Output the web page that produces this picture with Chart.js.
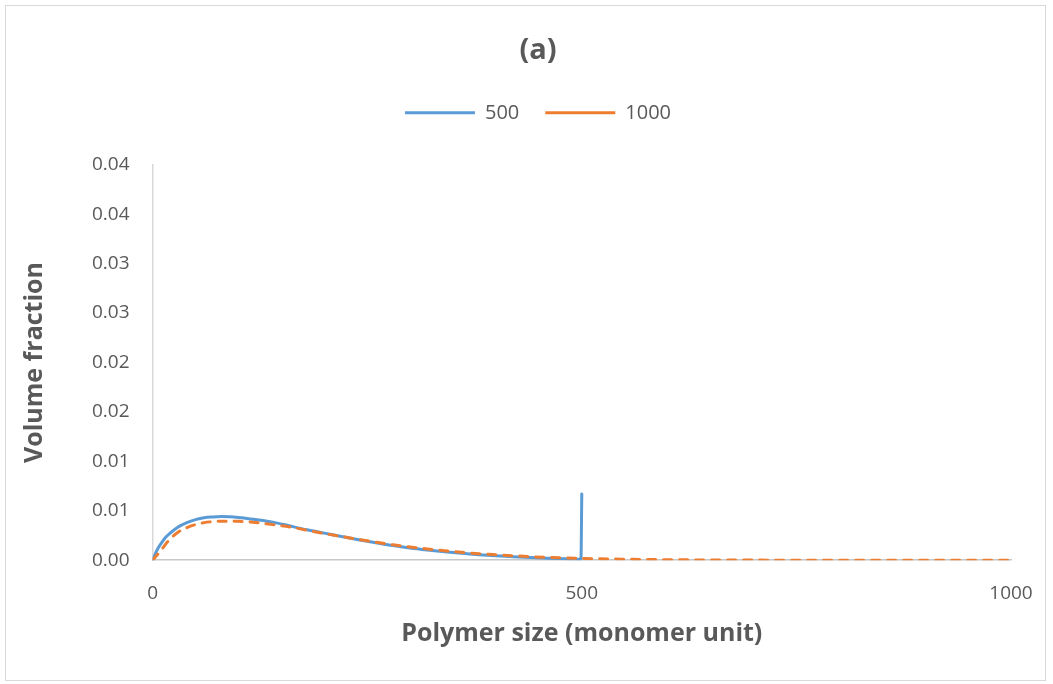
<!DOCTYPE html>
<html>
<head>
<meta charset="utf-8">
<script src="https://cdn.jsdelivr.net/npm/chart.js@4/dist/chart.umd.min.js"></script>
<style>
  html, body { margin: 0; padding: 0; background: #fff; }
  #wrap { position: relative; width: 1053px; height: 684px; }
  #frame { position: absolute; left: 5px; top: 5px; width: 1039px; height: 674px; border: 1px solid #d9d9d9; pointer-events: none; }
</style>
</head>
<body>
<div id="wrap">
  <canvas id="chart" width="1053" height="684"></canvas>
  <div id="frame"></div>
</div>
<script>
// ─── DATA ────────────────────────────────────────────────────────────────────

const sizes500  = [0, 5, 10, 15, 20, 30, 40, 50, 60, 70, 80, 90, 100, 120, 140, 160, 180, 200, 220, 240, 260, 280,
                   300, 320, 340, 360, 380, 400, 420, 440, 460, 480, 499, 500];
const frac500   = [0, 0.001, 0.0017, 0.0023, 0.0027, 0.00337, 0.0038, 0.0041, 0.0043, 0.00438, 0.00442, 0.0044, 0.00433,
                   0.00411, 0.00385, 0.00346, 0.00308, 0.00274, 0.0024, 0.00207, 0.00177, 0.00148,
                   0.00124, 0.00104, 0.00086, 0.0007, 0.00056, 0.00044, 0.00035, 0.00027, 0.0002, 0.00014,
                   0.0001, 0.0067];

const sizes1000 = [0, 5, 10, 15, 20, 30, 40, 50, 60, 70, 80, 90, 100, 120, 140, 160, 180, 200, 220, 240, 260, 280,
                   300, 320, 340, 360, 380, 400, 420, 440, 460, 480, 500, 550, 600, 650, 700, 800, 900, 1000];
const frac1000  = [0, 0.0005, 0.001, 0.0016, 0.0021, 0.00286, 0.0033, 0.0036, 0.0038, 0.0039, 0.00395, 0.00395, 0.00393,
                   0.00382, 0.0036, 0.00336, 0.00303, 0.0027, 0.0024, 0.0021, 0.00182, 0.00156,
                   0.00134, 0.00114, 0.00096, 0.0008, 0.00066, 0.00055, 0.00045, 0.00036, 0.00029, 0.00023,
                   0.00018, 0.0001, 0.00005, 0.00002, 0.00001, 0, 0, 0];

const yTickLabels = ['0.00', '0.01', '0.01', '0.02', '0.02', '0.03', '0.03', '0.04', '0.04'];
const xTickLabels = ['0', '500', '1000'];

// ─── CHART ───────────────────────────────────────────────────────────────────

const FONT = "'Open Sans', 'Segoe UI', 'Liberation Sans', sans-serif";
const textCol = '#595959';
const blue = '#5b9bd5';
const orange = '#ed7d31';
const LEGEND_GAP = 32;   // extra room between legend and plot

const toPoints = (xs, ys) => xs.map((x, i) => ({ x, y: ys[i] }));

// leave a bit more space under the legend, like the original
const legendSpacer = {
  id: 'legendSpacer',
  beforeInit(chart) {
    const fit = chart.legend.fit;
    chart.legend.fit = function () {
      fit.call(this);
      this.height += LEGEND_GAP;
    };
  }
};

new Chart(document.getElementById('chart'), {
  type: 'line',
  data: {
    datasets: [
      {
        label: '500',
        data: toPoints(sizes500, frac500),
        borderColor: blue,
        backgroundColor: blue,
        borderWidth: 3,
        borderCapStyle: 'round',
        pointRadius: 0,
        cubicInterpolationMode: 'monotone',
        order: 1
      },
      {
        label: '1000',
        data: toPoints(sizes1000, frac1000),
        borderColor: orange,
        backgroundColor: orange,
        borderWidth: 3,
        borderDash: [8, 8],
        borderCapStyle: 'round',
        pointRadius: 0,
        cubicInterpolationMode: 'monotone',
        order: 0
      }
    ]
  },
  options: {
    responsive: false,
    animation: false,
    // left padding keeps title/legend centred like the original; y title is pulled back out with negative padding
    layout: { padding: { left: 65, right: 42, top: 20, bottom: 35 } },
    plugins: {
      title: {
        display: true,
        text: '(a)',
        color: textCol,
        font: { family: FONT, size: 29, weight: 'bold' },
        padding: { top: 13, bottom: 9 }
      },
      legend: {
        position: 'top',
        labels: {
          color: textCol,
          font: { family: FONT, size: 20 },
          usePointStyle: true,
          pointStyle: 'line',
          pointStyleWidth: 70,
          boxHeight: 20,
          padding: 26,
          sort: (a, b) => a.datasetIndex - b.datasetIndex
        }
      },
      tooltip: { enabled: false }
    },
    scales: {
      x: {
        type: 'linear',
        min: 0,
        max: 1000,
        ticks: {
          stepSize: 500,
          color: textCol,
          font: { family: FONT, size: 19 },
          padding: 14,
          callback: (v, i) => xTickLabels[i]
        },
        grid: { display: false },
        border: { display: true, color: '#c8c8c8', width: 1.5 },
        title: {
          display: true,
          text: 'Polymer size (monomer unit)',
          color: textCol,
          font: { family: FONT, size: 25, weight: 'bold' },
          padding: { top: 0, bottom: 0 }
        }
      },
      y: {
        min: 0,
        max: 0.04,
        ticks: {
          stepSize: 0.005,
          color: textCol,
          font: { family: FONT, size: 19 },
          padding: 15,
          callback: (v, i) => yTickLabels[i]
        },
        grid: { display: false },
        border: { display: true, color: '#d9d9d9', width: 1.5 },
        title: {
          display: true,
          text: 'Volume fraction',
          color: textCol,
          font: { family: FONT, size: 25, weight: 'bold' },
          padding: { top: -45, bottom: 27 }
        }
      }
    }
  },
  plugins: [legendSpacer]
});
</script>
</body>
</html>
